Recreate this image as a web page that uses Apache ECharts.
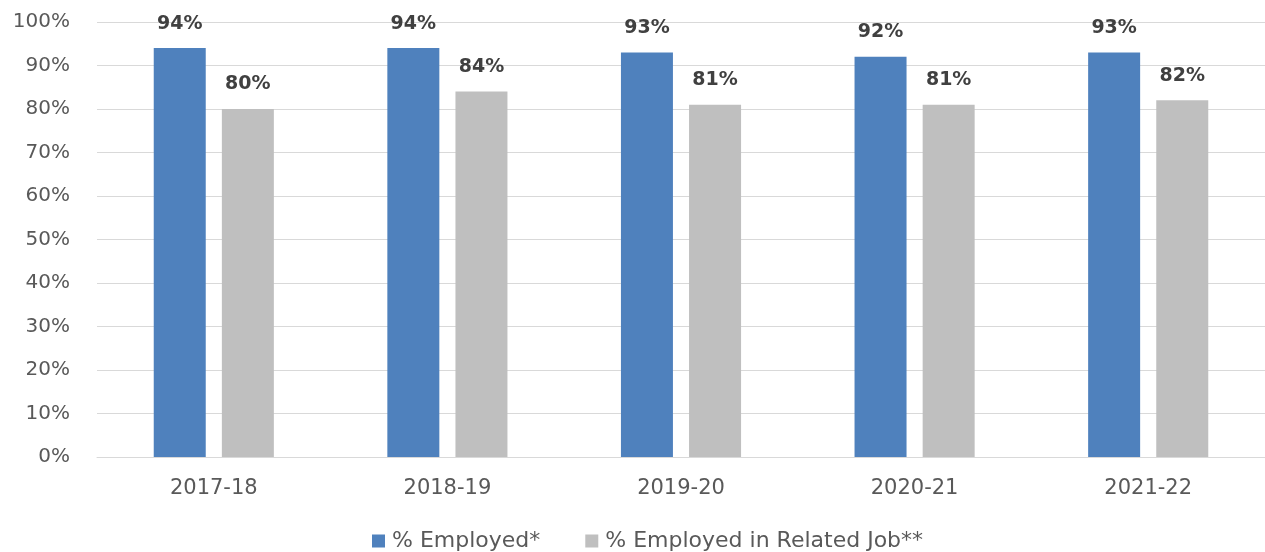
<!DOCTYPE html>
<html>
<head>
<meta charset="utf-8">
<script src="https://cdn.jsdelivr.net/npm/echarts@6/dist/echarts.min.js"></script>
<style>
  html, body { margin: 0; padding: 0; background: #fff; }
  #chart { width: 1265px; height: 552px; }
</style>
</head>
<body>
<div id="chart"></div>
<script>
// School years on the category axis
const years = ['2017-18', '2018-19', '2019-20', '2020-21', '2021-22'];
// Percentage of graduates employed
const employed = [94, 94, 93, 92, 93];
// Percentage employed in a job related to their program
const employedRelated = [80, 84, 81, 81, 82];
// Value axis tick settings
const yTicks = { min: 0, max: 100, interval: 10 };

const font = '"DejaVu Sans", Verdana, sans-serif';

const labelStyle = {
  show: true,
  position: 'top',
  distance: 15,
  formatter: '{c}%',
  color: '#404040',
  fontSize: 19,
  fontWeight: 'bold',
  fontFamily: font
};

const chart = echarts.init(document.getElementById('chart'));
chart.setOption({
  animation: false,
  grid: { left: 97, right: 0, top: 22, bottom: 95, containLabel: false },
  legend: {
    top: 530,
    left: 372,
    padding: 0,
    itemWidth: 13,
    itemHeight: 13,
    itemGap: 45,
    icon: 'rect',
    textStyle: { color: '#595959', fontSize: 22, fontFamily: font, padding: [0, 0, 0, 2] },
    data: ['% Employed*', '% Employed in Related Job**']
  },
  xAxis: {
    type: 'category',
    data: years,
    axisLine: { lineStyle: { color: '#d9d9d9' } },
    axisTick: { show: false },
    axisLabel: { color: '#595959', fontSize: 21, fontFamily: font, margin: 21 }
  },
  yAxis: {
    type: 'value',
    min: yTicks.min,
    max: yTicks.max,
    interval: yTicks.interval,
    axisLabel: { formatter: '{value}%', color: '#595959', fontSize: 20, fontFamily: font, margin: 27 },
    splitLine: { lineStyle: { color: '#d9d9d9' } },
    axisLine: { show: false },
    axisTick: { show: false }
  },
  series: [
    {
      name: '% Employed*',
      type: 'bar',
      data: employed,
      barWidth: 52,
      barGap: '31%',
      itemStyle: { color: '#4f81bd' },
      label: labelStyle
    },
    {
      name: '% Employed in Related Job**',
      type: 'bar',
      data: employedRelated,
      barWidth: 52,
      itemStyle: { color: '#bfbfbf' },
      label: labelStyle
    }
  ]
});
</script>
</body>
</html>
